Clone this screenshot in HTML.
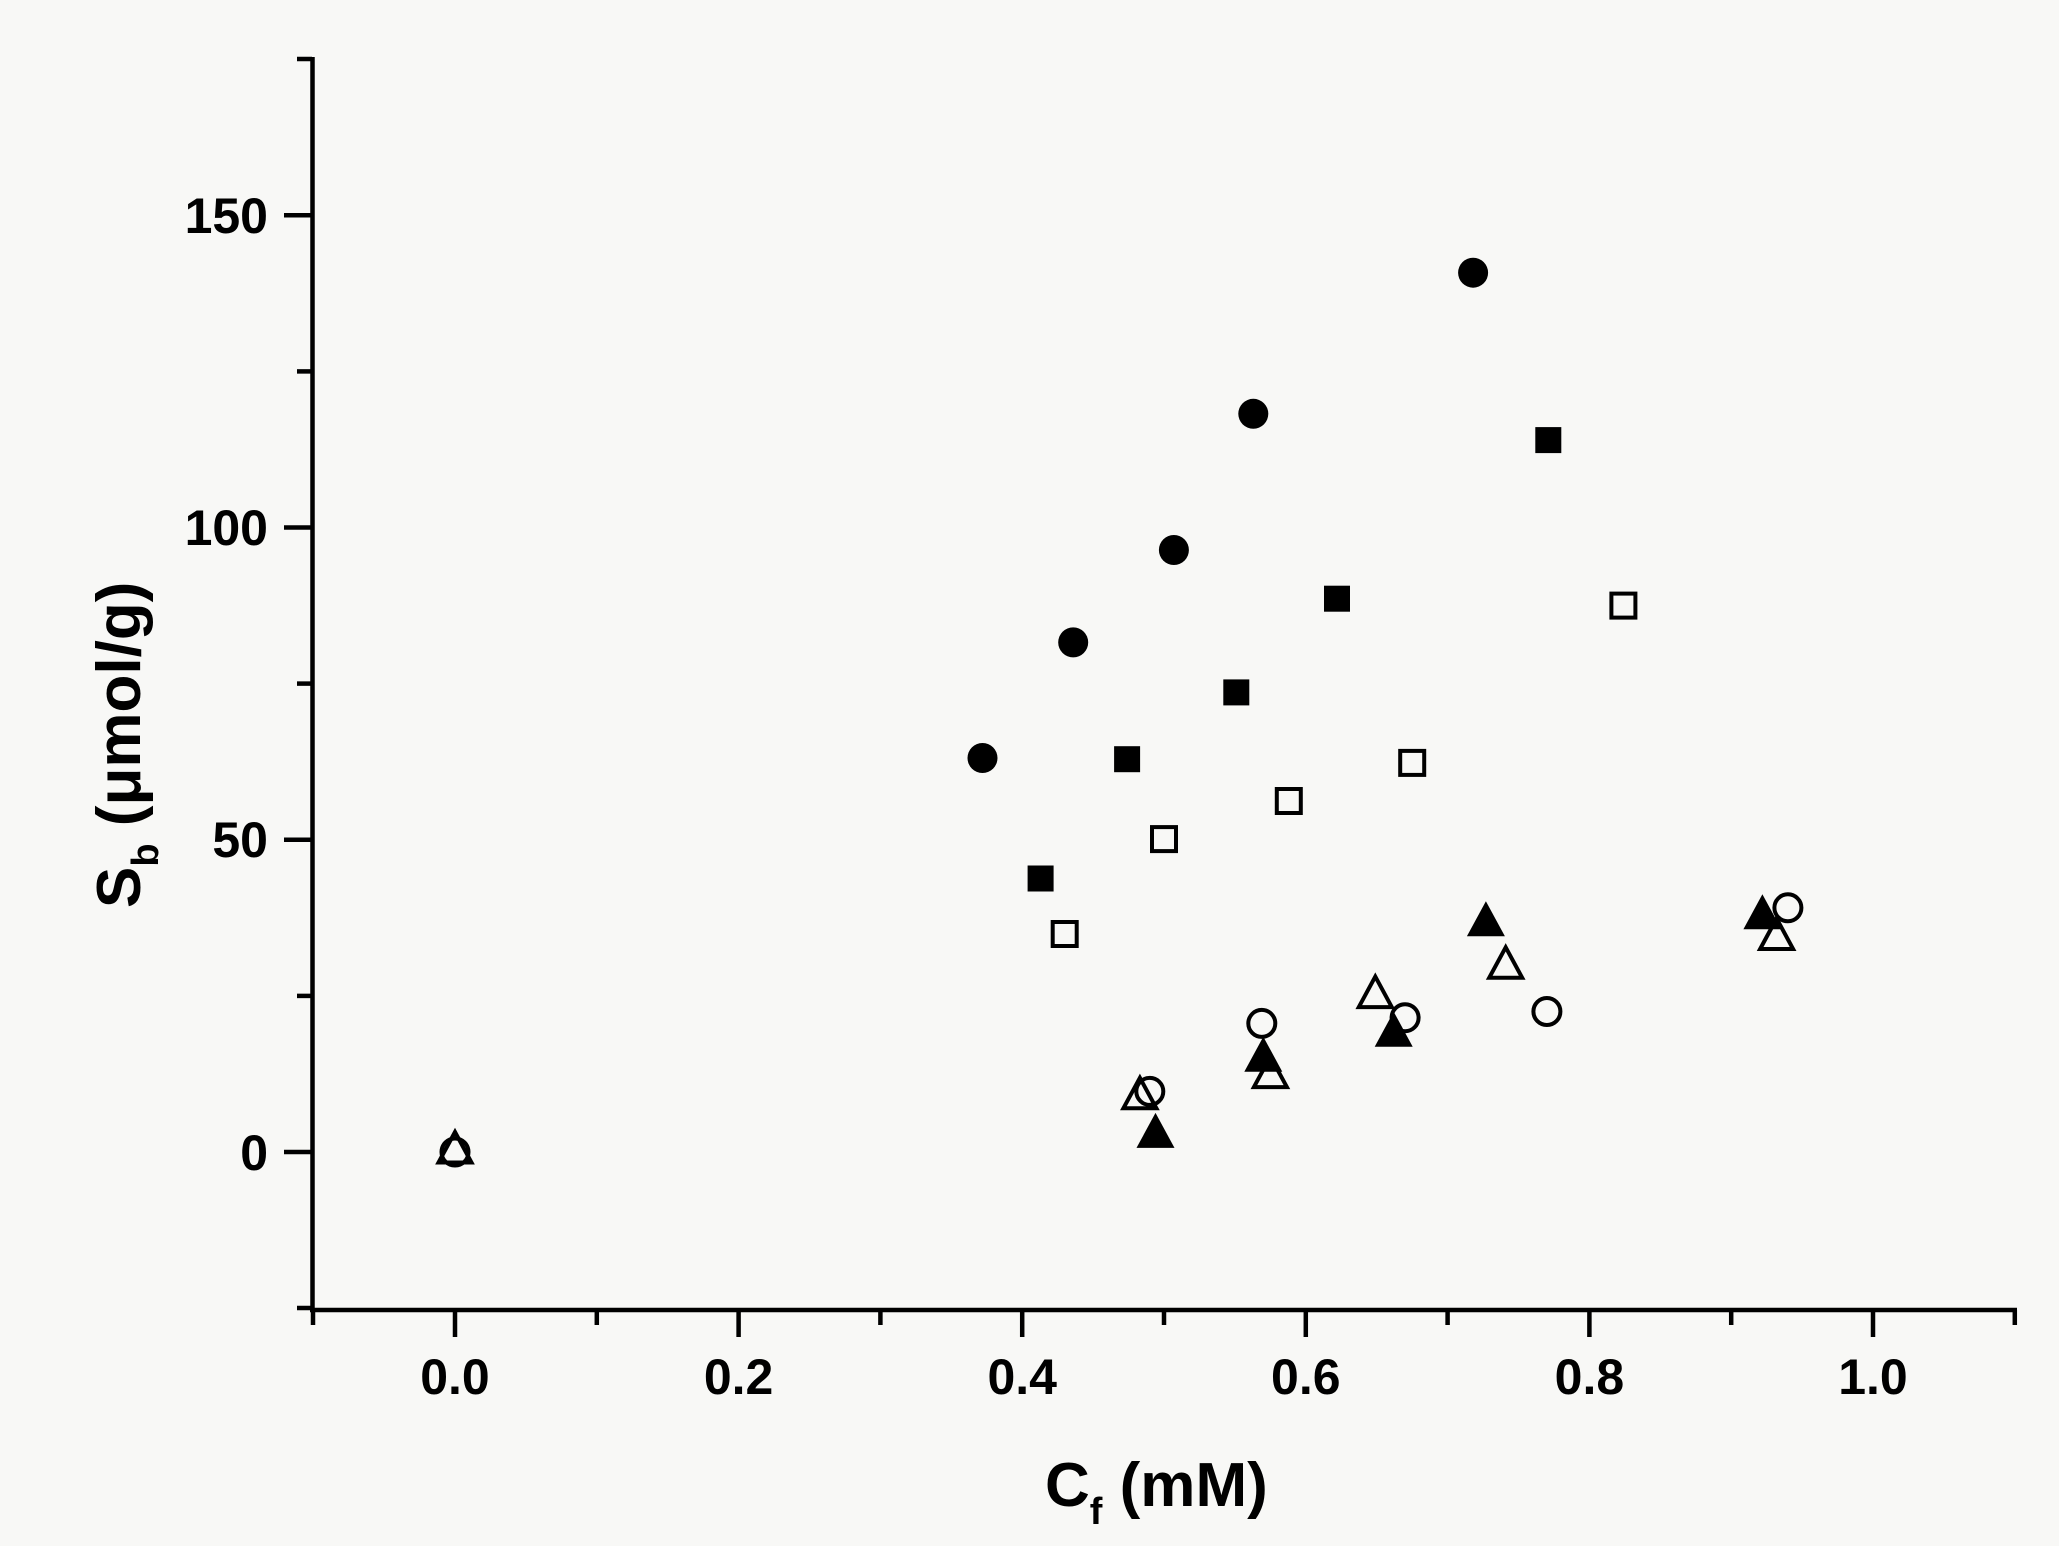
<!DOCTYPE html>
<html><head><meta charset="utf-8"><style>
html,body{margin:0;padding:0;background:#f8f8f6;}
svg{display:block;}
text{font-family:"Liberation Sans",Arial,sans-serif;font-weight:bold;fill:#000;}
</style></head><body>
<svg width="2059" height="1546" viewBox="0 0 2059 1546" xmlns="http://www.w3.org/2000/svg">
<rect width="2059" height="1546" fill="#f8f8f6"/>
<defs>
<circle id="fc" r="15" fill="#000"/>
<circle id="oc" r="13.5" fill="none" stroke="#000" stroke-width="4"/>
<rect id="fs" x="-13" y="-13" width="26" height="26" fill="#000"/>
<rect id="os" x="-12" y="-12" width="24" height="24" fill="none" stroke="#000" stroke-width="4"/>
<polygon id="ft" points="0,-21 -19,14 19,14" fill="#000"/>
<polygon id="ot" points="0,-18 -16.5,12.5 16.5,12.5" fill="none" stroke="#000" stroke-width="4"/>
</defs>
<g stroke="#000" stroke-width="4.5" fill="none">
<line x1="312.5" y1="57" x2="312.5" y2="1312"/>
<line x1="310" y1="1310" x2="2017" y2="1310"/>
<line x1="284" y1="215.3" x2="312" y2="215.3"/>
<line x1="284" y1="527.5" x2="312" y2="527.5"/>
<line x1="284" y1="839.8" x2="312" y2="839.8"/>
<line x1="284" y1="1152" x2="312" y2="1152"/>
<line x1="297" y1="59" x2="312" y2="59"/>
<line x1="297" y1="371.4" x2="312" y2="371.4"/>
<line x1="297" y1="683.6" x2="312" y2="683.6"/>
<line x1="297" y1="995.9" x2="312" y2="995.9"/>
<line x1="297" y1="1308" x2="312" y2="1308"/>
<line x1="313" y1="1310" x2="313" y2="1325"/>
<line x1="455" y1="1310" x2="455" y2="1337"/>
<line x1="596.8" y1="1310" x2="596.8" y2="1325"/>
<line x1="738.6" y1="1310" x2="738.6" y2="1337"/>
<line x1="880.4" y1="1310" x2="880.4" y2="1325"/>
<line x1="1022.2" y1="1310" x2="1022.2" y2="1337"/>
<line x1="1164" y1="1310" x2="1164" y2="1325"/>
<line x1="1305.8" y1="1310" x2="1305.8" y2="1337"/>
<line x1="1447.6" y1="1310" x2="1447.6" y2="1325"/>
<line x1="1589.4" y1="1310" x2="1589.4" y2="1337"/>
<line x1="1731.2" y1="1310" x2="1731.2" y2="1325"/>
<line x1="1873" y1="1310" x2="1873" y2="1337"/>
<line x1="2014.8" y1="1310" x2="2014.8" y2="1325"/>
</g>
<g font-size="50" text-anchor="end">
<text x="268" y="233">150</text>
<text x="268" y="545">100</text>
<text x="268" y="857">50</text>
<text x="268" y="1170">0</text>
</g>
<g font-size="50" text-anchor="middle">
<text x="455" y="1394">0.0</text>
<text x="738.6" y="1394">0.2</text>
<text x="1022.2" y="1394">0.4</text>
<text x="1305.8" y="1394">0.6</text>
<text x="1589.4" y="1394">0.8</text>
<text x="1873" y="1394">1.0</text>
</g>
<text x="1045" y="1506" font-size="62">C<tspan font-size="38" dy="18">f</tspan><tspan dy="-18"> (mM)</tspan></text>
<text transform="translate(140,908) rotate(-90)" font-size="62">S<tspan font-size="38" dy="18">b</tspan><tspan dy="-18"> (μmol/g)</tspan></text>
<use href="#fc" x="982.5" y="758"/>
<use href="#fc" x="1073.2" y="642.4"/>
<use href="#fc" x="1173.9" y="550"/>
<use href="#fc" x="1253.3" y="413.8"/>
<use href="#fc" x="1473.1" y="272.7"/>
<use href="#fs" x="1040.6" y="878.5"/>
<use href="#fs" x="1127.1" y="759.2"/>
<use href="#fs" x="1236.3" y="692.4"/>
<use href="#fs" x="1337" y="598.7"/>
<use href="#fs" x="1548.3" y="440.1"/>
<use href="#os" x="1064.7" y="934"/>
<use href="#os" x="1164" y="839.1"/>
<use href="#os" x="1288.8" y="801"/>
<use href="#os" x="1412.2" y="762.9"/>
<use href="#os" x="1623.4" y="605.6"/>
<use href="#oc" x="455" y="1152"/>
<use href="#oc" x="1149.8" y="1091.4"/>
<use href="#oc" x="1261.8" y="1023.4"/>
<use href="#oc" x="1405.1" y="1017.7"/>
<use href="#oc" x="1546.9" y="1011.5"/>
<use href="#oc" x="1787.9" y="907.8"/>
<use href="#ft" x="1155.5" y="1133.9"/>
<use href="#ft" x="1263.3" y="1057.7"/>
<use href="#ft" x="1393.7" y="1032.7"/>
<use href="#ft" x="1485.9" y="922.2"/>
<use href="#ft" x="1762.4" y="915.3"/>
<use href="#ot" x="455" y="1150"/>
<use href="#ot" x="1139.9" y="1095.8"/>
<use href="#ot" x="1270.4" y="1074.6"/>
<use href="#ot" x="1375.3" y="994.6"/>
<use href="#ot" x="1505.7" y="965.3"/>
<use href="#ot" x="1776.6" y="936.5"/>
</svg>
</body></html>
